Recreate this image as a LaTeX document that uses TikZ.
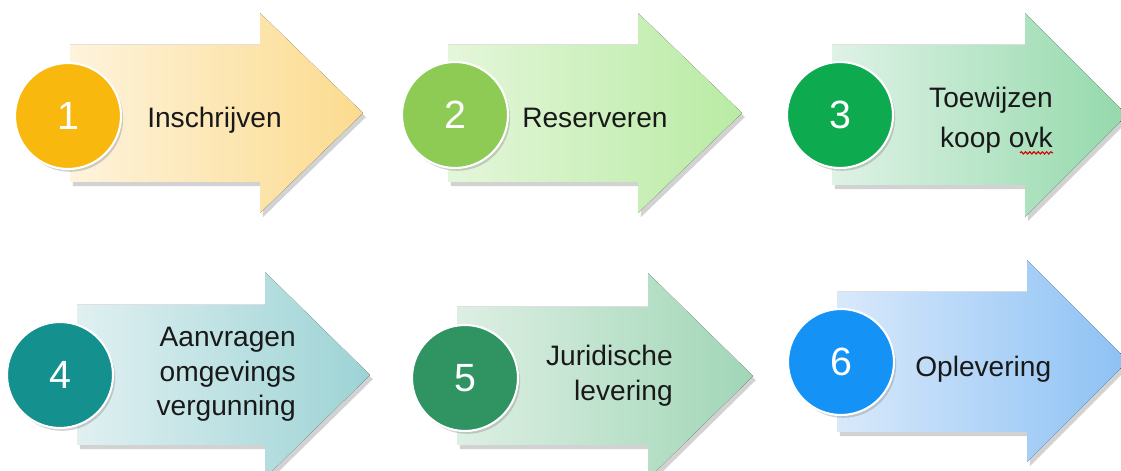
\documentclass[tikz,border=0pt]{standalone}
\usepackage{fontspec}
\setmainfont{Liberation Sans}
\usetikzlibrary{shadows,calc,decorations.pathmorphing}
\definecolor{c1}{HTML}{F9B80E}
\definecolor{c2}{HTML}{8DCB55}
\definecolor{c3}{HTML}{0DAA4F}
\definecolor{c4}{HTML}{14918F}
\definecolor{c5}{HTML}{2F9462}
\definecolor{c6}{HTML}{1592F6}
\definecolor{a1l}{HTML}{FEF3DC}
\definecolor{a1r}{HTML}{FBDB8E}
\definecolor{a2l}{HTML}{E4F6DA}
\definecolor{a2r}{HTML}{B9EBA4}
\definecolor{a3l}{HTML}{DFF2E6}
\definecolor{a3r}{HTML}{94D9AB}
\definecolor{a4l}{HTML}{E0F0F1}
\definecolor{a4r}{HTML}{9DD3D5}
\definecolor{a5l}{HTML}{DDEFE3}
\definecolor{a5r}{HTML}{A1D6B7}
\definecolor{a6l}{HTML}{D9E9FB}
\definecolor{a6r}{HTML}{8CC1F4}
\tikzset{
  stepnum/.style={circle,minimum size=2.65cm,inner sep=0pt,fill=#1,draw=white,line width=1.5pt,
    text=white,font=\fontsize{28}{30}\selectfont,
    drop shadow={shadow xshift=1.5pt,shadow yshift=-2pt,opacity=.35}},
  steptext/.style={inner sep=0pt,text=black!90,font=\fontsize{20}{24.5}\selectfont},
  flow/.style={drop shadow={shadow xshift=2pt,shadow yshift=-3pt,opacity=.35}}
}

\begin{document}
\begin{tikzpicture}[x=0.025cm,y=-0.025cm]
                \clip (0,0) rectangle (1121,471);
                \fill[white] (0,0) rectangle (1121,471);
                % arrows
                \fill[flow,left color=a1l,right color=a1r] (70,45) -- (260,45) -- (260,13) -- (363,113) -- (260,213) -- (260,182) -- (70,182) -- cycle;
                \fill[flow,left color=a2l,right color=a2r] (448,45) -- (638,45) -- (638,13) -- (742,113) -- (638,213) -- (638,182) -- (448,182) -- cycle;
                \fill[flow,left color=a3l,right color=a3r] (832,45) -- (1025,45) -- (1025,13) -- (1127,115) -- (1025,217) -- (1025,185) -- (832,185) -- cycle;
                \fill[flow,left color=a4l,right color=a4r] (77,305) -- (265,305) -- (265,272) -- (370,375) -- (265,478) -- (265,445) -- (77,445) -- cycle;
                \fill[flow,left color=a5l,right color=a5r] (457,307) -- (648,307) -- (648,273) -- (753,376) -- (648,479) -- (648,445) -- (457,445) -- cycle;
                \fill[flow,left color=a6l,right color=a6r] (837,292) -- (1027,292) -- (1027,260) -- (1128,361) -- (1027,462) -- (1027,432) -- (837,432) -- cycle;
                % numbers
                \node[stepnum=c1] (n1) at (68,116) {1};
                \node[stepnum=c2] (n2) at (455,115) {2};
                \node[stepnum=c3] (n3) at (840,115) {3};
                \node[stepnum=c4] (n4) at (60,375) {4};
                \node[stepnum=c5] (n5) at (465,378) {5};
                \node[stepnum=c6] (n6) at (841,362) {6};
                % labels
                \node[steptext,anchor=base west] (t1) at (147,128) {Inschrijven};
                \node[steptext,anchor=base west] (t2) at (522,128) {Reserveren};
                \node[steptext,anchor=north east,align=right] (t3) at (1053,87) {Toewijzen\\[4pt]koop ovk};
                \node[steptext,anchor=north east,align=right] (t4) at (296,327) {Aanvragen\\omgevings\\vergunning};
                \node[steptext,anchor=north east,align=right] (t5) at (673,345) {Juridische\\levering};
                \node[steptext,anchor=base west] (t6) at (915,377) {Oplevering};
                \draw[red!85!black,line width=0.8pt,decorate,decoration={snake,amplitude=0.8pt,segment length=3pt}] ($(t3.south east)+(-33,-1)$) -- ($(t3.south east)+(0,-1)$);
            \end{tikzpicture}
\end{document}
